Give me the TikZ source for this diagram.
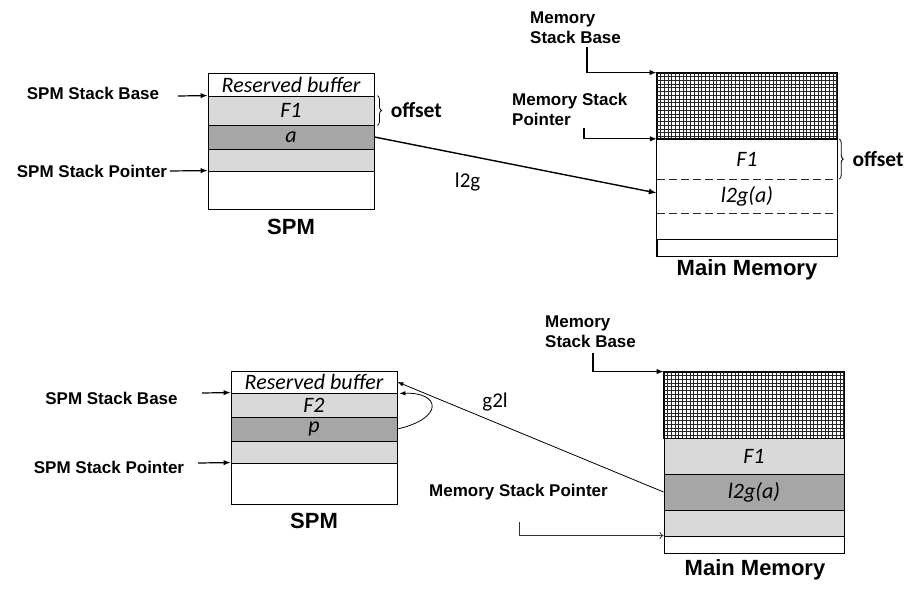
\documentclass[tikz,border=0pt]{standalone}
\usepackage{fontspec}
\setmainfont{Carlito}
\setsansfont{Liberation Sans}
\usetikzlibrary{arrows.meta,decorations.pathreplacing}
\definecolor{lightcell}{RGB}{217,217,217}
\definecolor{darkcell}{RGB}{166,166,166}
\begin{document}
\begin{tikzpicture}[x=1pt,y=-1pt,
  cell/.style={draw, line width=0.9pt, inner sep=0pt, fill=white,
    font=\itshape\fontsize{22}{24}\selectfont},
  spmcell/.style={cell, minimum width=166pt},
  mmcell/.style={cell, minimum width=180pt},
  mmtext/.style={inner sep=0pt, minimum width=180pt,
    font=\itshape\fontsize{22}{24}\selectfont},
  lab/.style={inner sep=0pt, font=\sffamily\bfseries\fontsize{17}{20}\selectfont},
  title/.style={inner sep=0pt, font=\sffamily\bfseries\fontsize{22}{26}\selectfont},
  offlbl/.style={inner sep=0pt, font=\bfseries\fontsize{21.5}{24}\selectfont},
  edgelbl/.style={inner sep=0pt, font=\fontsize{21}{24}\selectfont},
  ptr/.style={-{Latex[length=7pt,width=5.5pt]}, line width=1.2pt},
  bigarrow/.style={-{Latex[length=8pt,width=6pt]}, line width=1.4pt},
  thinarrow/.style={-{Latex[length=6pt,width=4.5pt]}, line width=0.8pt},
  openarrow/.style={-{To[length=4pt,width=7pt]}, line width=0.8pt, draw=black!80},
  gridline/.style={line width=0.4pt, draw=black!85},
  sep/.style={line width=0.9pt, dash pattern=on 8pt off 4pt, draw=black!85},
  brace/.style={decorate, decoration={brace, amplitude=4pt}, line width=0.8pt}]
\useasboundingbox (0,0) rectangle (915,592);

% ---------------- upper panel: SPM ----------------
\node[spmcell, minimum height=23pt] (sa-res) at (291,84.5) {Reserved buffer};
\node[spmcell, minimum height=29pt, fill=lightcell] (sa-f1) at (291,110.5) {F1};
\node[spmcell, minimum height=24pt, fill=darkcell] (sa-a) at (291,137) {a};
\node[spmcell, minimum height=22pt, fill=lightcell] (sa-lt) at (291,160) {};
\node[spmcell, minimum height=38pt] (sa-wh) at (291,190) {};
\node[title] (sa-title) at (291,227) {SPM};

\node[lab] (sa-baselbl) at (93,93) {SPM Stack Base};
\coordinate (sa-basetail) at (178,96);
\draw[ptr] (sa-basetail) -- (sa-f1.north west);
\node[lab] (sa-ptrlbl) at (92,171) {SPM Stack Pointer};
\coordinate (sa-ptrtail) at (170,171);
\draw[ptr] (sa-ptrtail) -- (sa-wh.north west);

\draw[brace] ([xshift=3pt]sa-f1.north east) -- ([xshift=3pt]sa-f1.south east)
  node[midway, anchor=west, xshift=13pt, offlbl] (sa-off) {offset};

% ---------------- upper panel: main memory ----------------
\node[mmcell, minimum height=66pt] (ma-hatch) at (747,106) {};
\begin{scope}[shift={(ma-hatch.north west)}]
  \foreach \gx in {0,3.75,...,180} \draw[gridline] (\gx,0) -- (\gx,66);
  \foreach \gy in {0,3.75,...,66} \draw[gridline] (0,\gy) -- (180,\gy);
\end{scope}
\draw[line width=0.9pt] (ma-hatch.north west) rectangle (ma-hatch.south east);
\node[mmtext, minimum height=40pt] (ma-f1) at (747,159) {F1};
\node[mmtext, minimum height=34pt] (ma-l2g) at (747,196) {l2g(a)};
\node[mmtext, minimum height=26pt] (ma-free) at (747,226) {};
\node[mmcell, minimum height=17pt] (ma-end) at (747,247.5) {};
\draw[line width=0.9pt] (ma-f1.north west) rectangle (ma-end.south east);
\draw[sep] (ma-f1.south west) -- (ma-f1.south east);
\draw[sep] (ma-l2g.south west) -- (ma-l2g.south east);
\node[title] (ma-title) at (747,270) {Main Memory};

\node[lab, align=left, anchor=north west] (ma-baselbl) at (530,12) {Memory\\Stack Base};
\coordinate (ma-basetail) at (587,47);
\draw[ptr] (ma-basetail) |- (ma-hatch.north west);
\node[lab, align=left, anchor=north west] (ma-ptrlbl) at (512,93) {Memory Stack\\Pointer};
\coordinate (ma-ptrtail) at (584,128);
\draw[ptr] (ma-ptrtail) |- (ma-f1.north west);

\draw[brace] ([xshift=2pt]ma-f1.north east) -- ([xshift=2pt]ma-f1.south east)
  node[midway, anchor=west, xshift=13pt, offlbl] (ma-off) {offset};

\draw[bigarrow] (sa-a.east) -- ([yshift=3pt]ma-l2g.west)
  node[pos=0.33, yshift=-27pt, edgelbl] (l2g-lbl) {l2g};

% ---------------- lower panel: SPM ----------------
\node[spmcell, minimum height=22pt] (sb-res) at (314,382) {Reserved buffer};
\node[spmcell, minimum height=24pt, fill=lightcell] (sb-f2) at (314,405) {F2};
\node[spmcell, minimum height=24pt, fill=darkcell] (sb-p) at (314,429) {p};
\node[spmcell, minimum height=22pt, fill=lightcell] (sb-lt) at (314,452) {};
\node[spmcell, minimum height=41pt] (sb-wh) at (314,483.5) {};
\node[title] (sb-title) at (314,521) {SPM};

\node[lab] (sb-baselbl) at (111.5,398) {SPM Stack Base};
\coordinate (sb-basetail) at (202,393);
\draw[ptr] (sb-basetail) -- (sb-f2.north west);
\node[lab] (sb-ptrlbl) at (109,467) {SPM Stack Pointer};
\coordinate (sb-ptrtail) at (198,463);
\draw[ptr] (sb-ptrtail) -- (sb-wh.north west);

% ---------------- lower panel: main memory ----------------
\node[mmcell, minimum height=66pt] (mb-hatch) at (754,405) {};
\begin{scope}[shift={(mb-hatch.north west)}]
  \foreach \gx in {0,3.75,...,180} \draw[gridline] (\gx,0) -- (\gx,66);
  \foreach \gy in {0,3.75,...,66} \draw[gridline] (0,\gy) -- (180,\gy);
\end{scope}
\draw[line width=0.9pt] (mb-hatch.north west) rectangle (mb-hatch.south east);
\node[mmcell, minimum height=36pt, fill=lightcell] (mb-f1) at (754,456) {F1};
\node[mmcell, minimum height=36pt, fill=darkcell] (mb-l2g) at (754,492) {l2g(a)};
\node[mmcell, minimum height=26pt, fill=lightcell] (mb-lt) at (754,523) {};
\node[mmcell, minimum height=17pt] (mb-end) at (754,544.5) {};
\node[title] (mb-title) at (755,570) {Main Memory};

\node[lab, align=left, anchor=north west] (mb-baselbl) at (545,316) {Memory\\Stack Base};
\coordinate (mb-basetail) at (593,353);
\draw[ptr] (mb-basetail) |- (mb-hatch.north west);
\node[lab] (mb-ptrlbl) at (518.5,492) {Memory Stack Pointer};
\coordinate (mb-ptrtail) at (519,522);
\draw[openarrow] (mb-ptrtail) |- (mb-end.north west);

\draw[thinarrow] (mb-l2g.west) -- (sb-res.east)
  node[pos=0.633, yshift=20pt, edgelbl] (g2l-lbl) {g2l};
\draw[thinarrow] (sb-p.east) .. controls (445,418) and (440,392) .. ([xshift=2pt]sb-res.south east);

\end{tikzpicture}
\end{document}
